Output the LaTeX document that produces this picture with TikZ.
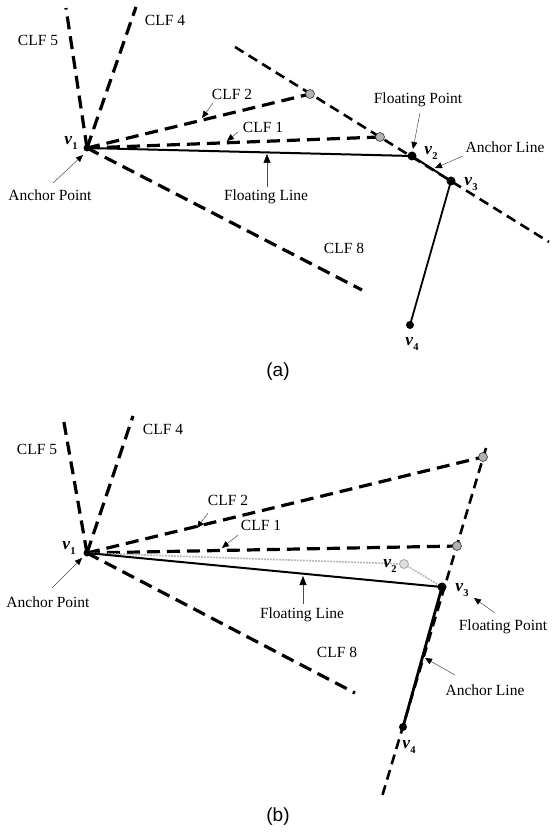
\documentclass[tikz,border=0pt]{standalone}
\usepackage{fontspec}
\setmainfont{Liberation Serif}
\newfontfamily\capfont{Liberation Sans}
\usetikzlibrary{arrows.meta}
\newcommand\vlab[1]{{\bfseries\itshape v}\raisebox{-4.5pt}{\fontsize{10.5}{10.5}\selectfont\bfseries #1}}
\begin{document}
\begin{tikzpicture}[x=1pt,y=-1pt,
  clf/.style={line width=3.2pt, dash pattern=on 13pt off 7pt},
  anch/.style={line width=2.6pt, dash pattern=on 10pt off 6pt},
  solidln/.style={line width=2pt},
  vdot/.style={circle, fill=black, inner sep=0pt, minimum size=9pt},
  gdot/.style={circle, fill=gray!60, draw=gray!40!black, line width=0.6pt, inner sep=0pt, minimum size=9pt},
  odot/.style={circle, fill=gray!25, draw=gray!70, line width=0.8pt, inner sep=0pt, minimum size=9pt},
  lbl/.style={font=\fontsize{15.5}{17}\selectfont, inner sep=0pt},
  vlbl/.style={font=\fontsize{17.5}{19}\selectfont, inner sep=0pt},
  ptr/.style={line width=0.5pt, draw=black!70, -{Triangle[length=7pt,width=6pt,color=black]}},
  bigptr/.style={line width=0.5pt, draw=black!70, -{Triangle[length=9pt,width=7pt,color=black]}},
  captxt/.style={font=\capfont\fontsize{19}{21}\selectfont, inner sep=0pt}
]
\useasboundingbox (0,0) rectangle (551,834);

% ---------------- panel (a) ----------------
\coordinate (a1) at (87,148);
\coordinate (a2) at (412,156);
\coordinate (a3) at (451,181);
\coordinate (a4) at (410,325);
\coordinate (aC5) at (66,8);
\coordinate (aC4) at (136,7);
\coordinate (aC2) at (310,94);
\coordinate (aC1) at (380,137);
\coordinate (aC8) at (362,290);
\coordinate (aLs) at (235,47);
\coordinate (aLe) at (549,242);

\draw[clf] (a1) -- (aC5);
\draw[clf] (a1) -- (aC4);
\draw[clf] (a1) -- (aC2);
\draw[clf] (a1) -- (aC1);
\draw[clf] (a1) -- (aC8);
\draw[anch] (aLs) -- (aLe);
\draw[solidln] (a1) -- (a2) -- (a3);
\draw[line width=1.8pt] (a3) -- (a4);

\node[gdot] (aG2) at (aC2) {};
\node[gdot] (aG1) at (aC1) {};
\node[vdot, minimum size=7pt] (aV1) at (a1) {};
\node[vdot] (aV2) at (a2) {};
\node[vdot] (aV3) at (a3) {};
\node[vdot, minimum size=8pt] (aV4) at (a4) {};

\node[lbl] (aT5) at (38,40) {CLF 5};
\node[lbl] (aT4) at (165,20) {CLF 4};
\node[lbl] (aT2) at (232,94) {CLF 2};
\node[lbl] (aT1) at (263,127) {CLF 1};
\node[lbl] (aTfp) at (418,100) {Floating Point};
\node[lbl] (aTal) at (505,147) {Anchor Line};
\node[lbl] (aTap) at (50,195) {Anchor Point};
\node[lbl] (aTfl) at (266,197) {Floating Line};
\node[lbl] (aT8) at (344,248) {CLF 8};
\node[vlbl] (aL1) at (71,143) {\vlab{1}};
\node[vlbl] (aL2) at (431,153) {\vlab{2}};
\node[vlbl] (aL3) at (471,184) {\vlab{3}};
\node[vlbl] (aL4) at (412,344) {\vlab{4}};
\node[captxt] (aCap) at (278,372) {(a)};

\coordinate (aPa0) at (53,183);  \coordinate (aPa1) at (83,155);
\coordinate (aPf0) at (267,187); \coordinate (aPf1) at (267,154);
\coordinate (aP20) at (213,103); \coordinate (aP21) at (202,118);
\coordinate (aP10) at (238,132); \coordinate (aP11) at (227,141);
\coordinate (aPp0) at (420,113); \coordinate (aPp1) at (413,149);
\coordinate (aPl0) at (463,156); \coordinate (aPl1) at (435,168);
\draw[ptr] (aPa0) -- (aPa1);
\draw[bigptr] (aPf0) -- (aPf1);
\draw[ptr] (aP20) -- (aP21);
\draw[ptr] (aP10) -- (aP11);
\draw[ptr] (aPp0) -- (aPp1);
\draw[ptr] (aPl0) -- (aPl1);

% ---------------- panel (b) ----------------
\coordinate (b1) at (87,553);
\coordinate (b2) at (404,564);
\coordinate (b3) at (442,587);
\coordinate (b4) at (403,727);
\coordinate (bC5) at (63,417);
\coordinate (bC4) at (133,416);
\coordinate (bC2) at (483,457);
\coordinate (bC1) at (457,546);
\coordinate (bC8) at (355,693);
\coordinate (bLs) at (486,448);
\coordinate (bLe) at (381,800);

\draw[clf] (b1) -- (bC5);
\draw[clf] (b1) -- (bC4);
\draw[clf] (b1) -- (bC2);
\draw[clf] (b1) -- (bC1);
\draw[clf] (b1) -- (bC8);
\draw[anch] (bLs) -- (bLe);
\draw[gray!55, line width=1.6pt, dash pattern=on 2pt off 1pt] (b1) -- (b2) -- (b3);
\draw[solidln] (b1) -- (b3);
\draw[line width=2.8pt] (b3) -- (b4);

\node[gdot] (bG2) at (bC2) {};
\node[gdot] (bG1) at (bC1) {};
\node[odot] (bV2) at (b2) {};
\node[vdot, minimum size=7pt] (bV1) at (b1) {};
\node[vdot] (bV3) at (b3) {};
\node[vdot, minimum size=8pt] (bV4) at (b4) {};

\node[lbl] (bT5) at (37,449) {CLF 5};
\node[lbl] (bT4) at (163,429) {CLF 4};
\node[lbl] (bT2) at (228,500) {CLF 2};
\node[lbl] (bT1) at (261,525) {CLF 1};
\node[lbl] (bTap) at (48,602) {Anchor Point};
\node[lbl] (bTfl) at (302,615) {Floating Line};
\node[lbl] (bTfp) at (503,627) {Floating Point};
\node[lbl] (bT8) at (337,652) {CLF 8};
\node[lbl] (bTal) at (485,690) {Anchor Line};
\node[vlbl] (bL1) at (69,548) {\vlab{1}};
\node[vlbl] (bL2) at (390,566) {\vlab{2}};
\node[vlbl] (bL3) at (462,590) {\vlab{3}};
\node[vlbl] (bL4) at (409,747) {\vlab{4}};
\node[captxt] (bCap) at (278,817) {(b)};

\coordinate (bPa0) at (52,588);  \coordinate (bPa1) at (82,558);
\coordinate (bPf0) at (303,604); \coordinate (bPf1) at (303,576);
\coordinate (bP20) at (208,513); \coordinate (bP21) at (197,528);
\coordinate (bP10) at (238,535); \coordinate (bP11) at (222,548);
\coordinate (bPp0) at (495,613); \coordinate (bPp1) at (474,598);
\coordinate (bPl0) at (455,675); \coordinate (bPl1) at (425,658);
\draw[ptr] (bPa0) -- (bPa1);
\draw[bigptr] (bPf0) -- (bPf1);
\draw[ptr] (bP20) -- (bP21);
\draw[ptr] (bP10) -- (bP11);
\draw[ptr] (bPp0) -- (bPp1);
\draw[ptr] (bPl0) -- (bPl1);
\end{tikzpicture}
\end{document}
